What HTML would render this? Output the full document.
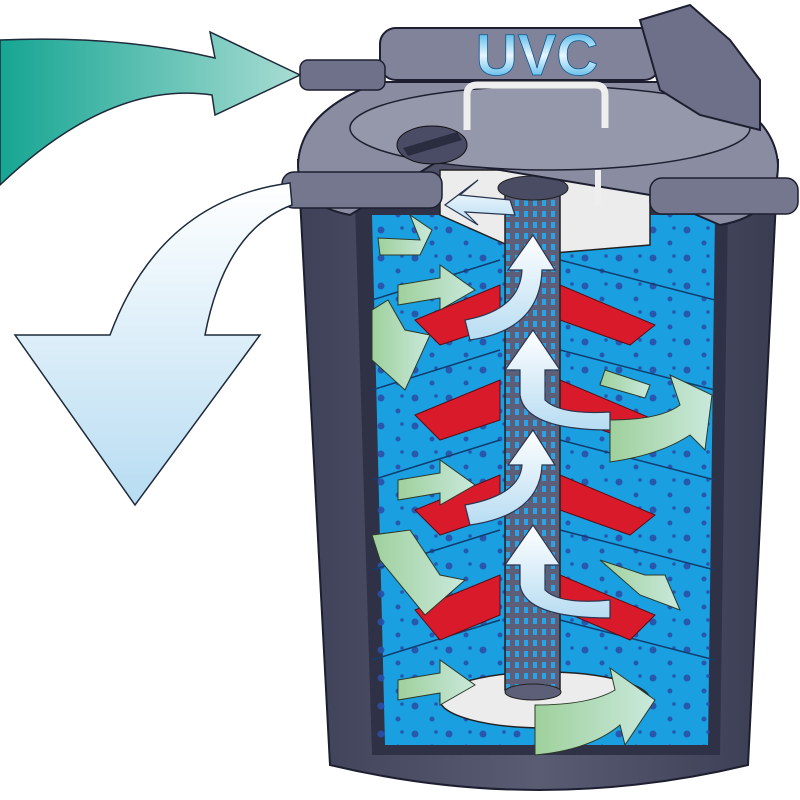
<!DOCTYPE html>
<html><head><meta charset="utf-8"><style>html,body{margin:0;padding:0;background:#fff}svg{display:block}</style></head>
<body>
<svg width="800" height="800" viewBox="0 0 800 800" xmlns="http://www.w3.org/2000/svg">
<defs>
<linearGradient id="teal" x1="0" x2="1" y1="0" y2="0"><stop offset="0" stop-color="#16a593"/><stop offset="1" stop-color="#a8dcd3"/></linearGradient>
<linearGradient id="lb" x1="0" x2="0" y1="0" y2="1"><stop offset="0" stop-color="#ffffff"/><stop offset="1" stop-color="#b7dcf2"/></linearGradient>
<linearGradient id="gr" x1="0" x2="1"><stop offset="0" stop-color="#9fd09c"/><stop offset="1" stop-color="#c9e9dc"/></linearGradient>
<linearGradient id="body" x1="0" x2="1"><stop offset="0" stop-color="#3f4158"/><stop offset="0.5" stop-color="#5a5c74"/><stop offset="1" stop-color="#3a3c52"/></linearGradient>
<linearGradient id="uvc" x1="0" x2="0" y1="0" y2="1"><stop offset="0" stop-color="#1ea0e0"/><stop offset="0.5" stop-color="#e8f6ff"/><stop offset="1" stop-color="#1ea0e0"/></linearGradient>
<pattern id="dots" width="34" height="28" patternUnits="userSpaceOnUse"><circle cx="7" cy="6" r="3.5" fill="#2a4fa8"/><circle cx="24" cy="19" r="2.5" fill="#2a4fa8"/><circle cx="28" cy="4" r="1.8" fill="#2a4fa8"/></pattern>
<pattern id="holes" width="9" height="11" patternUnits="userSpaceOnUse"><rect width="9" height="11" fill="#5d5f78"/><rect x="2" y="2" width="4" height="6" fill="#2aa2e6"/></pattern>
</defs>
<!-- teal inlet arrow -->
<path d="M0,40 Q120,35 215,58 L210,32 L300,75 L215,115 L212,95 Q110,80 0,185 Z" fill="url(#teal)" stroke="#1d2a3a" stroke-width="1.5"/>
<!-- body -->
<path d="M298,160 L778,160 L748,765 Q540,815 330,765 Z" fill="url(#body)" stroke="#1d1f30" stroke-width="2"/>
<!-- interior cutaway -->
<path d="M355,205 L728,205 L720,755 L372,755 Z" fill="#2f3146"/>
<path d="M372,215 L715,215 L708,745 L385,745 Z" fill="#1a9fe0"/>
<rect x="372" y="215" width="343" height="530" fill="url(#dots)" opacity="0.9"/>
<!-- layer lines -->
<g stroke="#123d70" stroke-width="1.5" fill="none">
<path d="M372,300 L500,260 M560,260 L715,300"/>
<path d="M372,390 L500,350 M560,350 L715,390"/>
<path d="M372,480 L500,440 M560,440 L715,480"/>
<path d="M372,570 L500,530 M560,530 L715,570"/>
<path d="M372,660 L500,620 M560,620 L715,660"/>
</g>
<!-- red slabs -->
<g fill="#d91a2a" stroke="#5a0d14" stroke-width="1">
<path d="M415,320 L500,285 L500,325 L440,345 Z"/><path d="M560,285 L655,325 L630,345 L560,320 Z"/>
<path d="M415,415 L500,380 L500,420 L440,440 Z"/><path d="M560,380 L655,420 L630,440 L560,415 Z"/>
<path d="M415,510 L500,475 L500,515 L440,535 Z"/><path d="M560,475 L655,515 L630,535 L560,510 Z"/>
<path d="M415,610 L500,575 L500,615 L440,640 Z"/><path d="M560,575 L655,615 L630,640 L560,610 Z"/>
</g>
<!-- bottom white disc -->
<ellipse cx="545" cy="700" rx="105" ry="28" fill="#ececec" stroke="#222" stroke-width="1.5"/>
<!-- top white disc -->
<path d="M440,170 L650,170 L650,245 L530,255 L440,215 Z" fill="#ececec" stroke="#222" stroke-width="1.5"/>
<!-- central tube -->
<rect x="505" y="190" width="55" height="500" fill="url(#holes)" stroke="#222" stroke-width="1.5"/>
<ellipse cx="533" cy="692" rx="28" ry="8" fill="#5d5f78" stroke="#222"/>
<ellipse cx="533" cy="188" rx="35" ry="12" fill="#4a4c64" stroke="#222"/>
<!-- lid -->
<path d="M298,165 Q300,110 380,82 L690,82 Q775,110 778,165 Q778,215 720,225 L650,195 L440,160 L350,215 Q298,205 298,165 Z" fill="#8a8ca2" stroke="#1d1f30" stroke-width="2"/>
<ellipse cx="550" cy="128" rx="200" ry="42" fill="#9597ab" stroke="#1d1f30" stroke-width="1.5"/>
<ellipse cx="432" cy="145" rx="35" ry="19" fill="#4a4c66" stroke="#111"/>
<path d="M403,148 L457,132 L462,140 L408,156 Z" fill="#2a2c40"/>
<path d="M467,130 L467,95 Q467,85 477,85 L595,85 Q605,85 605,95 L605,128" fill="none" stroke="#eee" stroke-width="7"/>
<path d="M598,170 L598,205" stroke="#eee" stroke-width="6"/>
<!-- UVC lamp -->
<rect x="380" y="28" width="280" height="52" rx="16" fill="#80839a" stroke="#1d1f30" stroke-width="2"/>
<text x="537" y="75" text-anchor="middle" font-family="Liberation Sans, sans-serif" font-weight="bold" font-size="58" fill="url(#uvc)" stroke="#0c5a90" stroke-width="0.8">UVC</text>
<path d="M640,20 L690,5 L730,40 L760,80 L760,130 L700,115 L660,90 Z" fill="#6d7088" stroke="#1d1f30" stroke-width="2"/>
<!-- inlet nozzle -->
<rect x="300" y="60" width="85" height="30" rx="8" fill="#6e7189" stroke="#1d1f30" stroke-width="1.5"/>
<!-- outlet pipes -->
<rect x="282" y="172" width="160" height="36" rx="12" fill="#74778e" stroke="#1d1f30" stroke-width="1.5"/>
<rect x="650" y="178" width="148" height="36" rx="12" fill="#74778e" stroke="#1d1f30" stroke-width="1.5"/>
<!-- light blue outlet arrow -->
<path d="M290,183 Q160,200 110,335 L15,335 L135,505 L260,335 L205,335 Q225,230 292,205 Z" fill="url(#lb)" stroke="#1d2a3a" stroke-width="1.5"/>
<!-- green arrows -->
<g fill="url(#gr)" stroke="#2a3a2a" stroke-width="1">
<path d="M378,238 L420,240 L410,215 L432,230 L420,255 L380,255 Z"/>
<path d="M398,285 L440,278 L440,265 L475,290 L440,310 L440,298 L398,305 Z"/>
<path d="M372,310 L388,300 L405,330 L430,335 L405,390 L372,360 Z"/>
<path d="M398,480 L440,473 L440,460 L475,485 L440,505 L440,493 L398,500 Z"/>
<path d="M372,535 L410,530 L440,575 L465,580 L425,615 L380,560 Z"/>
<path d="M398,680 L440,673 L440,660 L475,685 L440,705 L440,693 L398,700 Z"/>
<path d="M605,370 L650,385 L645,398 L600,385 Z"/>
<path d="M610,420 Q660,420 680,405 L670,375 L712,395 L705,450 L690,435 Q660,455 610,462 Z"/>
<path d="M600,560 L645,575 L665,575 L680,610 L640,595 Z"/>
<path d="M535,705 Q590,705 615,690 L610,668 L655,700 L625,745 L620,725 Q590,750 535,755 Z"/>
</g>
<!-- white flow arrows -->
<g fill="url(#lb)" stroke="#2a3550" stroke-width="1.2">
<path d="M510,200 L460,195 L478,180 L445,205 L478,225 L465,212 L515,215 Z"/>
<path d="M465,320 Q520,310 522,270 L508,270 L533,235 L555,270 L542,270 Q540,330 470,340 Z"/>
<path d="M520,370 L505,370 L533,330 L560,370 L545,370 L545,400 Q560,415 610,412 L610,430 Q525,430 520,395 Z"/>
<path d="M465,505 Q520,495 522,465 L508,465 L533,430 L555,465 L542,465 Q540,515 470,525 Z"/>
<path d="M520,565 L505,565 L533,525 L560,565 L545,565 L545,590 Q560,605 610,600 L610,618 Q525,618 520,585 Z"/>
</g>
</svg>
</body></html>
